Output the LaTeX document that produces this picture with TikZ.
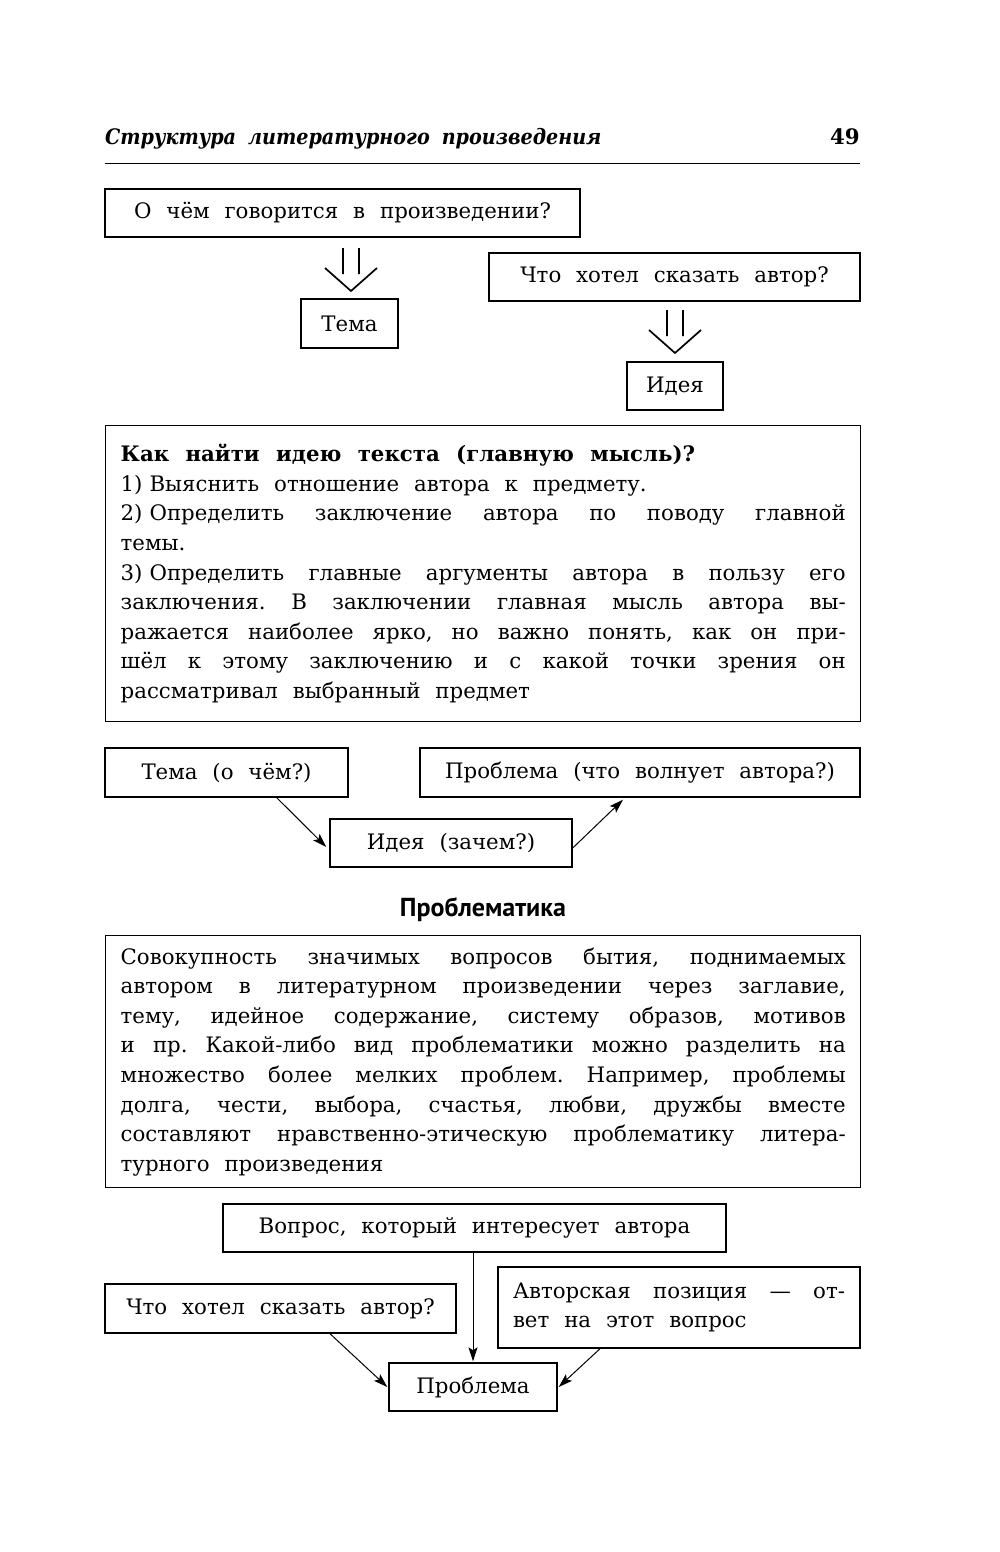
\documentclass[tikz,border=0pt]{standalone}
\usepackage{fontspec}
\setmainfont{DejaVu Serif}[WordSpace=2.2]
\newfontfamily\headsans{PT Sans}
\usetikzlibrary{arrows.meta,positioning}
\newcommand{\mainsize}{\fontsize{21.3}{29.6}\selectfont}
\newcommand{\fontspaces}{\frenchspacing\spaceskip=0pt\xspaceskip=0pt }
\newcommand{\jline}[1]{\hbox to\hsize{\fontspaces#1}}
\newcommand{\itemnum}[1]{#1)\hspace{7pt}}
\tikzstyle{every node}=[inner sep=0pt,font=\mainsize]
\tikzstyle{box}=[draw=black,line width=1.4pt,align=center]
\tikzstyle{textbox}=[draw=black,line width=1.4pt,anchor=north west,inner xsep=15pt,align=left]
\tikzstyle{link}=[line width=1pt,-{Stealth[length=14pt,width=9pt,inset=3pt]}]
\tikzstyle{dbl}=[line width=1.7pt]
\newcommand{\dbldown}[1]{%
  \draw[dbl,shift={#1}] (-8,0) -- (-8,26) (8,0) -- (8,26)
    (-26,20) -- (0,43) -- (26,20);}

\begin{document}
\begin{tikzpicture}[x=1pt,y=-1pt]
  \fill[white] (0,0) rectangle (1000,1552);
  \useasboundingbox (0,0) rectangle (1000,1552);
  % page head
  \node[anchor=base west] (head) at (105,145) {\fontspec{DejaVu Serif Condensed}[WordSpace=1.8]\bfseries\itshape Структура литературного произведения};
  \node[anchor=base east] (page) at (860,145) {\bfseries 49};
  \draw[line width=1pt] (105,163) -- (860,163);
  % theme and idea
  \node[box,minimum width=475pt,minimum height=48pt] (about) at (342.5,213) {О чём говорится в произведении?};
  \node[box,minimum width=97pt,minimum height=49pt] (theme) at (349.5,323.5) {Тема};
  \node[box,minimum width=371pt,minimum height=48pt] (meant) at (674.5,277) {Что хотел сказать автор?};
  \node[box,minimum width=96pt,minimum height=48pt] (idea) at (675,386) {Идея};
  \coordinate (dbl1) at (351,248);
  \coordinate (dbl2) at (675,310);
  \dbldown{(dbl1)}
  \dbldown{(dbl2)}
  \node[textbox,minimum width=755pt,minimum height=296pt,text width=725pt] (howto) at (105,425) {\fontspaces
    \textbf{Как найти идею текста (главную мысль)?}\par
    \itemnum{1}Выяснить отношение автора к предмету.\par
    \jline{\itemnum{2}Определить заключение автора по поводу главной}
    темы.\par
    \jline{\itemnum{3}Определить главные аргументы автора в пользу его}
    \jline{заключения. В заключении главная мысль автора вы-}
    \jline{ражается наиболее ярко, но важно понять, как он при-}
    \jline{шёл к этому заключению и с какой точки зрения он}
    рассматривал выбранный предмет};
  % triad
  \node[box,minimum width=243pt,minimum height=49pt] (themeq) at (226.5,772.5) {Тема (о чём?)};
  \node[box,minimum width=440pt,minimum height=49pt] (problq) at (640,772.5) {Проблема (что волнует автора?)};
  \node[box,minimum width=242pt,minimum height=48pt] (ideaq) at (451,843) {Идея (зачем?)};
  \draw[link] ([xshift=-72pt]themeq.south east) -- ([xshift=-3pt,yshift=-4pt]ideaq.west);
  \draw[link] ([yshift=-5pt]ideaq.east) -- ([xshift=-17pt,yshift=-2pt]problq.south);
  % problematics
  \node[font=\headsans\bfseries\fontsize{26}{30}\selectfont] (ptitle) at (483,910) {Проблематика};
  \node[textbox,minimum width=755pt,minimum height=252pt,text width=725pt] (define) at (105,935) {\fontspaces
    \jline{Совокупность значимых вопросов бытия, поднимаемых}
    \jline{автором в литературном произведении через заглавие,}
    \jline{тему, идейное содержание, систему образов, мотивов}
    \jline{и пр. Какой-либо вид проблематики можно разделить на}
    \jline{множество более мелких проблем. Например, проблемы}
    \jline{долга, чести, выбора, счастья, любви, дружбы вместе}
    \jline{составляют нравственно-этическую проблематику литера-}
    турного произведения};
  \node[box,minimum width=503pt,minimum height=48pt] (quest) at (474.5,1228) {Вопрос, который интересует автора};
  \node[box,minimum width=351pt,minimum height=49pt] (meantb) at (280.5,1308.5) {Что хотел сказать автор?};
  \node[textbox,anchor=center,minimum width=362pt,minimum height=81pt,text width=332pt] (answer) at (679,1307.5) {\fontspaces
    \jline{Авторская позиция — от-}
    вет на этот вопрос};
  \node[box,minimum width=168pt,minimum height=48pt] (problem) at (473,1387) {Проблема};
  \draw[link] (quest.south -| problem.north) -- ([yshift=1pt]problem.north);
  \draw[link] ([xshift=49.5pt]meantb.south) -- ([xshift=-1pt]problem.west);
  \draw[link] ([xshift=-79pt]answer.south) -- ([xshift=1pt]problem.east);
\end{tikzpicture}
\end{document}
